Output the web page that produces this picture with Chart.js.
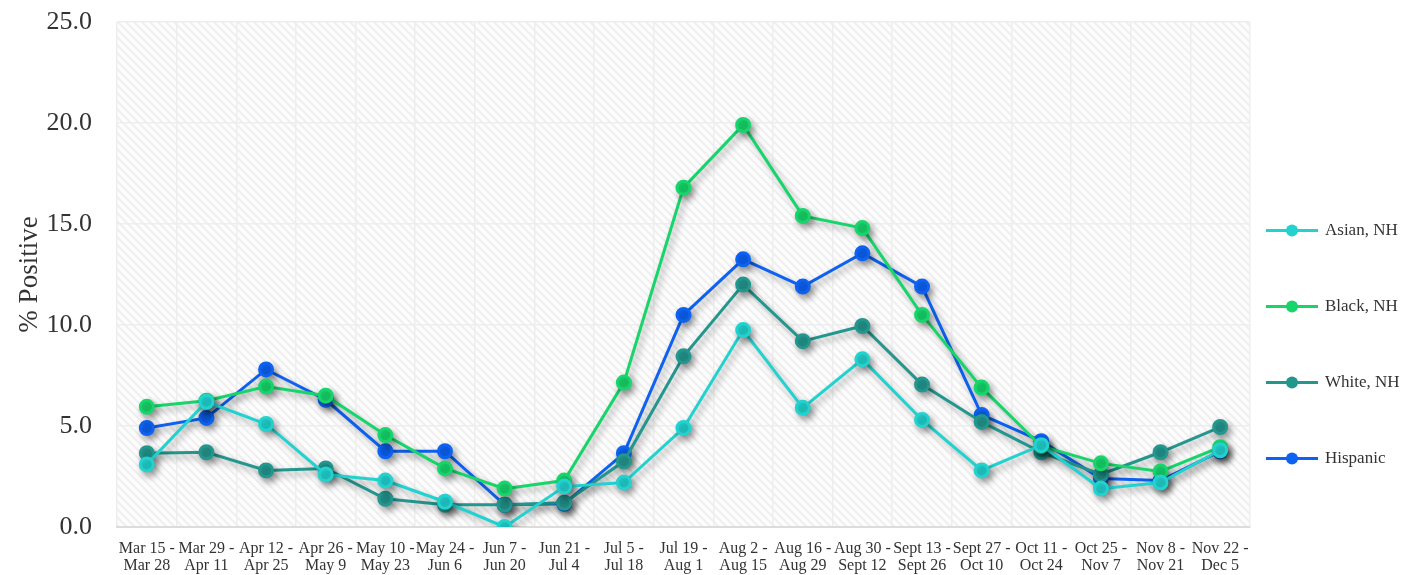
<!DOCTYPE html>
<html>
<head>
<meta charset="utf-8">
<script src="https://cdn.jsdelivr.net/npm/chart.js@4"></script>
<style>
  html, body { margin: 0; padding: 0; background: #fff; }
  #wrap { width: 1419px; height: 575px; }
</style>
</head>
<body>
<div id="wrap"><canvas id="posChart"></canvas></div>
<script>
var weeks = [
  ['Mar 15 -', 'Mar 28'], ['Mar 29 -', 'Apr 11'], ['Apr 12 -', 'Apr 25'], ['Apr 26 -', 'May 9'],
  ['May 10 -', 'May 23'], ['May 24 -', 'Jun 6'], ['Jun 7 -', 'Jun 20'], ['Jun 21 -', 'Jul 4'],
  ['Jul 5 -', 'Jul 18'], ['Jul 19 -', 'Aug 1'], ['Aug 2 -', 'Aug 15'], ['Aug 16 -', 'Aug 29'],
  ['Aug 30 -', 'Sept 12'], ['Sept 13 -', 'Sept 26'], ['Sept 27 -', 'Oct 10'], ['Oct 11 -', 'Oct 24'],
  ['Oct 25 -', 'Nov 7'], ['Nov 8 -', 'Nov 21'], ['Nov 22 -', 'Dec 5']
];
var asian    = [3.1, 6.2, 5.1, 2.6, 2.3, 1.25, 0.0, 2.0, 2.2, 4.9, 9.75, 5.9, 8.3, 5.3, 2.8, 4.05, 1.9, 2.2, 3.8];
var black    = [5.95, 6.25, 6.95, 6.5, 4.55, 2.9, 1.9, 2.3, 7.15, 16.8, 19.9, 15.4, 14.8, 10.5, 6.9, 4.0, 3.15, 2.75, 3.95];
var white    = [3.65, 3.7, 2.8, 2.9, 1.4, 1.1, 1.1, 1.2, 3.25, 8.45, 12.0, 9.2, 9.95, 7.05, 5.2, 3.7, 2.6, 3.7, 4.95];
var hispanic = [4.9, 5.4, 7.8, 6.3, 3.75, 3.75, 1.1, 1.15, 3.65, 10.5, 13.25, 11.9, 13.55, 11.9, 5.55, 4.25, 2.4, 2.3, 3.75];
var yTicks   = [0, 5, 10, 15, 20, 25];

var serif = "'Liberation Serif', 'DejaVu Serif', serif";

function series(label, data, color) {
  return {
    label: label,
    data: data,
    borderColor: color,
    backgroundColor: color,
    pointBackgroundColor: color,
    pointBorderColor: color,
    borderWidth: 3,
    pointRadius: 6.5,
    pointHoverRadius: 7,
    tension: 0,
    fill: false
  };
}

// hatched plot background
var hatchPlugin = {
  id: 'hatch',
  beforeDraw: function(chart) {
    var a = chart.chartArea, ctx = chart.ctx;
    var p = document.createElement('canvas');
    p.width = 8; p.height = 8;
    var g = p.getContext('2d');
    g.fillStyle = '#fdfdfd'; g.fillRect(0, 0, 8, 8);
    g.strokeStyle = '#efefef'; g.lineWidth = 2;
    g.beginPath();
    g.moveTo(0, 0); g.lineTo(8, 8);
    g.moveTo(-4, 4); g.lineTo(4, 12);
    g.moveTo(4, -4); g.lineTo(12, 4);
    g.stroke();
    ctx.save();
    ctx.fillStyle = ctx.createPattern(p, 'repeat');
    ctx.fillRect(a.left, a.top, a.right - a.left, a.bottom - a.top);
    ctx.restore();
  }
};

// soft drop shadow under the lines
var shadowPlugin = {
  id: 'lineShadow',
  beforeDatasetsDraw: function(chart) {
    var ctx = chart.ctx;
    ctx.save();
    ctx.shadowColor = 'rgba(0,0,0,0.35)';
    ctx.shadowBlur = 7;
    ctx.shadowOffsetX = 3;
    ctx.shadowOffsetY = 4;
  },
  afterDatasetsDraw: function(chart) {
    chart.ctx.restore();
  }
};

// legend on the right: line with a dot, then the label
var sideLegend = {
  id: 'sideLegend',
  afterDraw: function(chart) {
    var ctx = chart.ctx, a = chart.chartArea;
    var x0 = a.right + 16;
    var midY = (a.top + a.bottom) / 2 + 70;
    var gap = 76;
    var sets = chart.data.datasets;
    ctx.save();
    ctx.font = '17px ' + serif;
    ctx.textBaseline = 'middle';
    sets.forEach(function(ds, i) {
      var y = midY + (i - (sets.length - 1) / 2) * gap;
      ctx.strokeStyle = ds.borderColor;
      ctx.lineWidth = 3;
      ctx.beginPath(); ctx.moveTo(x0, y); ctx.lineTo(x0 + 52, y); ctx.stroke();
      ctx.fillStyle = ds.borderColor;
      ctx.beginPath(); ctx.arc(x0 + 26, y, 6, 0, Math.PI * 2); ctx.fill();
      ctx.fillStyle = '#333';
      ctx.fillText(ds.label, x0 + 59, y);
    });
    ctx.restore();
  }
};

var ctx = document.getElementById('posChart').getContext('2d');
var posChart = new Chart(ctx, {
  type: 'line',
  data: {
    labels: weeks,
    datasets: [
      series('Asian, NH', asian, '#22d2cf'),
      series('Black, NH', black, '#17d56b'),
      series('White, NH', white, '#23978e'),
      series('Hispanic', hispanic, '#0d62f2')
    ]
  },
  options: {
    responsive: true,
    maintainAspectRatio: false,
    animation: false,
    layout: { padding: { top: 22, left: 4, right: 169, bottom: 0 } },
    scales: {
      x: {
        offset: true,
        afterFit: function(axis) { axis.height = 48; },
        grid: { offset: true, color: '#eeeeee', lineWidth: 1.5, drawTicks: false },
        border: { color: '#dcdcdc', width: 2 },
        ticks: { color: '#333', font: { family: serif, size: 16, lineHeight: 1.06 }, padding: 13, maxRotation: 0, autoSkip: false }
      },
      y: {
        min: 0,
        max: 25,
        afterFit: function(axis) {
          axis.width = 113;
          axis.paddingTop = 0;
          axis.paddingBottom = 0;
        },
        afterBuildTicks: function(axis) {
          axis.ticks = yTicks.map(function(v) { return { value: v }; });
        },
        grid: { color: '#eeeeee', lineWidth: 1.5, drawTicks: false },
        border: { display: false },
        ticks: {
          color: '#333',
          font: { family: serif, size: 26 },
          padding: 25,
          callback: function(v) { return v.toFixed(1); }
        },
        title: { display: true, text: '% Positive', color: '#333', font: { family: serif, size: 27 }, padding: { top: 10, bottom: 0 } }
      }
    },
    plugins: {
      legend: { display: false },
      tooltip: { enabled: true }
    }
  },
  plugins: [hatchPlugin, shadowPlugin, sideLegend]
});
</script>
</body>
</html>
